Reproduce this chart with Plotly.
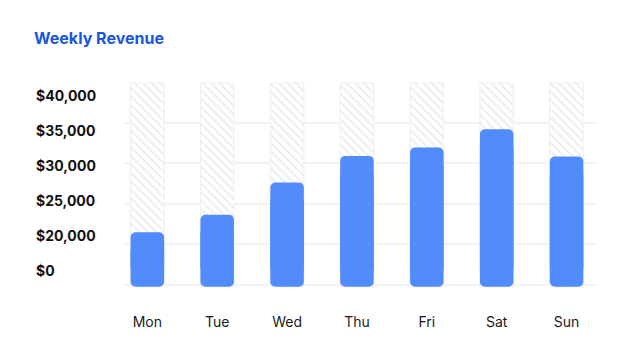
import plotly.graph_objects as go

# ---- data ----
days = ["Mon", "Tue", "Wed", "Thu", "Fri", "Sat", "Sun"]
revenue = [20400, 22900, 27500, 31300, 32500, 35100, 31200]
target = [41700] * 7            # hatched background track
tick_values = [40000, 35000, 30000, 25000, 20000, 15000]
tick_labels = ["$40,000", "$35,000", "$30,000", "$25,000", "$20,000", "$0"]

BASE = 12600          # visual baseline of bars (truncated axis)
Y_RANGE = [12286, 41857]
OVERLAP = 2000        # overlap of the two halves that build a fully rounded bar
BLUE = "#528CFC"
BAR_W = 0.48

fig = go.Figure()

# hatched background track
fig.add_trace(go.Bar(
    x=days, y=[t - BASE for t in target], base=[BASE] * len(days),
    width=BAR_W, marker=dict(
        color="white",
        line=dict(color="#eeeeee", width=1),
        pattern=dict(shape="\\", size=6, solidity=0.2, fgcolor="#cccccc", bgcolor="white"),
    ),
    hoverinfo="skip", showlegend=False,
))

# blue bars: upper piece rounds the top, lower piece rounds the bottom
fig.add_trace(go.Bar(
    x=days, y=[v - (BASE + OVERLAP) for v in revenue], base=[BASE + OVERLAP] * len(days),
    width=BAR_W, marker=dict(color=BLUE, line=dict(width=0), cornerradius=5),
    showlegend=False, hovertemplate="%{x}: $%{customdata:,}<extra></extra>", customdata=revenue,
))
fig.add_trace(go.Bar(
    x=days, y=[BASE - (v - OVERLAP) for v in revenue], base=[v - OVERLAP for v in revenue],
    width=BAR_W, marker=dict(color=BLUE, line=dict(width=0), cornerradius=5),
    showlegend=False, hoverinfo="skip",
))

# invisible trace on the grid axis
fig.add_trace(go.Scatter(x=[days[0]], y=[0], yaxis="y2", mode="markers",
                         marker=dict(opacity=0), hoverinfo="skip", showlegend=False))

annotations = []
for v, t in zip(tick_values, tick_labels):
    annotations.append(dict(
        text=t, x=-0.1924, xref="paper", xanchor="left", y=v, yref="y", yanchor="middle",
        showarrow=False, font=dict(family="Inter", size=14, color="#111111", weight=700),
    ))

fig.update_layout(
    width=630, height=362,
    margin=dict(l=125, r=32, t=82, b=73),
    paper_bgcolor="white", plot_bgcolor="white",
    barmode="overlay",
    title=dict(text="Weekly Revenue", x=34 / 630, xref="container", xanchor="left",
               y=1 - 38 / 362, yref="container", yanchor="middle",
               font=dict(family="Inter", size=16, color="#1A56DB", weight=700)),
    xaxis=dict(type="category", range=[-0.32, 6.45], showgrid=False, zeroline=False,
               showline=False, ticks="outside", ticklen=20, tickcolor="rgba(0,0,0,0)",
               tickfont=dict(family="Inter", size=14, color="#1a1a1a")),
    yaxis=dict(range=Y_RANGE, showgrid=False, zeroline=False, showline=False,
               showticklabels=False),
    yaxis2=dict(overlaying="y", anchor="x", range=[-0.099, 5.01], dtick=1, tick0=0,
                showgrid=True, gridcolor="#f3f3f3", gridwidth=1.5, zeroline=False,
                showline=False, showticklabels=False),
    annotations=annotations,
)

fig.write_html("out.html", config={"displayModeBar": False},
               post_script="document.body.style.margin='0';")
